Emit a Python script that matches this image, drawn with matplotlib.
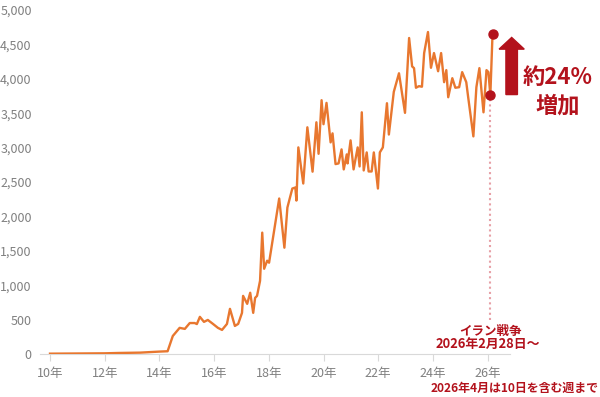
import matplotlib
matplotlib.use("Agg")
import matplotlib.pyplot as plt
from matplotlib.patches import FancyArrow

plt.rcParams['font.family'] = ['Noto Sans CJK JP', 'DejaVu Sans']

# decimal year of each observation and its value
dates = [2010.0, 2012.0, 2012.5, 2013.3, 2014.0, 2014.3,
         2014.49, 2014.74, 2014.93, 2015.11, 2015.29, 2015.37, 2015.48, 2015.63, 2015.77, 2015.96,
         2016.14, 2016.29, 2016.47, 2016.58, 2016.76, 2016.88, 2017.02, 2017.06, 2017.21, 2017.32,
         2017.43, 2017.5, 2017.57, 2017.68, 2017.76, 2017.83, 2017.94, 2018.01, 2018.38, 2018.57,
         2018.68, 2018.86, 2018.97, 2019.01, 2019.08, 2019.26, 2019.41, 2019.6, 2019.74, 2019.82,
         2019.93, 2020.0, 2020.11, 2020.26, 2020.33, 2020.44, 2020.55, 2020.66, 2020.74, 2020.85,
         2020.88, 2020.99, 2021.1, 2021.25, 2021.32, 2021.4, 2021.47, 2021.58, 2021.65, 2021.76,
         2021.84, 2021.99, 2022.06, 2022.17, 2022.32, 2022.39, 2022.57, 2022.76, 2022.98, 2023.13,
         2023.24, 2023.31, 2023.38, 2023.49, 2023.6, 2023.68, 2023.82, 2023.93, 2024.04, 2024.19,
         2024.3, 2024.41, 2024.49, 2024.56, 2024.71, 2024.82, 2024.96, 2025.07, 2025.22, 2025.29,
         2025.48, 2025.59, 2025.7, 2025.85, 2025.96, 2026.03, 2026.1, 2026.18]
values = [5, 10, 15, 20, 35, 40,
          262, 380, 365, 450, 450, 435, 540, 467, 495, 437,
          380, 350, 437, 656, 408, 437, 598, 845, 729, 890,
          598, 816, 845, 1064, 1764, 1239, 1356, 1327, 2260, 1545,
          2129, 2405, 2420, 2230, 3003, 2478, 3295, 2650, 3368, 2910,
          3689, 3340, 3650, 3076, 3207, 2760, 2770, 2974, 2683, 2901,
          2770, 3105, 2683, 3003, 2726, 3513, 2668, 2930, 2653, 2653,
          2930, 2405, 2930, 3003, 3645, 3190, 3810, 4080, 3505, 4593,
          4180, 4155, 3870, 3893, 3885, 4374, 4680, 4160, 4374, 4110,
          4374, 3951, 4126, 3732, 4009, 3870, 3878, 4097, 3951, 3732,
          3163, 3878, 4155, 3513, 4126, 4097, 3761, 4651]

year_ticks = [2010, 2012, 2014, 2016, 2018, 2020, 2022, 2024, 2026]
year_labels = ["10年", "12年", "14年", "16年", "18年", "20年", "22年", "24年", "26年"]
y_ticks = [0, 500, 1000, 1500, 2000, 2500, 3000, 3500, 4000, 4500, 5000]

LINE = '#E8772F'
RED = '#B3121C'
GRAY = '#808080'

fig = plt.figure(figsize=(6, 3.97), dpi=100)
ax = fig.add_axes([40/600, 1-354/397, 470/600, 344/397])

ax.plot(dates, values, color=LINE, lw=1.7, solid_joinstyle='round', zorder=3)

# war marker: pre-jump point and latest point
ax.plot([dates[-2], dates[-1]], [values[-2], values[-1]], 'o', color=RED, ms=6.5, zorder=4)
ax.plot([dates[-2], dates[-2]], [500, values[-2]], linestyle=(0, (1, 1.5)),
        color='#E7A0A6', lw=1.5, zorder=2)

ax.text(dates[-2], 335, "イラン戦争", ha='center', va='center', color=RED,
        fontsize=9, fontweight='bold')
ax.text(dates[-2] - 0.1, 130, "2026年2月28日～", ha='center', va='center', color=RED,
        fontsize=9.3, fontweight='bold')
fig.text(0.997, 1-388/397, "2026年4月は10日を含む週まで", ha='right', va='center',
         color=RED, fontsize=8.6, fontweight='bold')

# increase arrow
ax_x = dates[-1] + 0.7
arrow = FancyArrow(ax_x, values[-2] + 10, 0, values[-1] - values[-2] - 60,
                   width=0.42, head_width=0.92, head_length=170,
                   length_includes_head=True, color=RED, clip_on=False, zorder=5)
ax.add_patch(arrow)
pct = (values[-1] / values[-2] - 1) * 100
fig.text(558/600, 1-77/397, f"約{pct:.0f}%", ha='center', va='center', color=RED,
         fontsize=16, fontweight='bold')
fig.text(558/600, 1-106/397, "増加", ha='center', va='center', color=RED,
         fontsize=16, fontweight='bold')

ax.set_xlim(2010 - 10/27.35, 2010 + 460/27.35)
ax.set_ylim(0, 5000)
ax.set_xticks(year_ticks)
ax.set_xticklabels(year_labels)
ax.set_yticks(y_ticks)
ax.set_yticklabels([f"{v:,}" for v in y_ticks])
for s in ['top', 'right', 'left']:
    ax.spines[s].set_visible(False)
ax.spines['bottom'].set_color('#D9D9D9')
ax.tick_params(axis='y', length=0, pad=6, labelsize=9, labelcolor=GRAY)
ax.tick_params(axis='x', length=5, color='#D9D9D9', pad=4, labelsize=9, labelcolor=GRAY)

fig.savefig("out.png", dpi=100)
